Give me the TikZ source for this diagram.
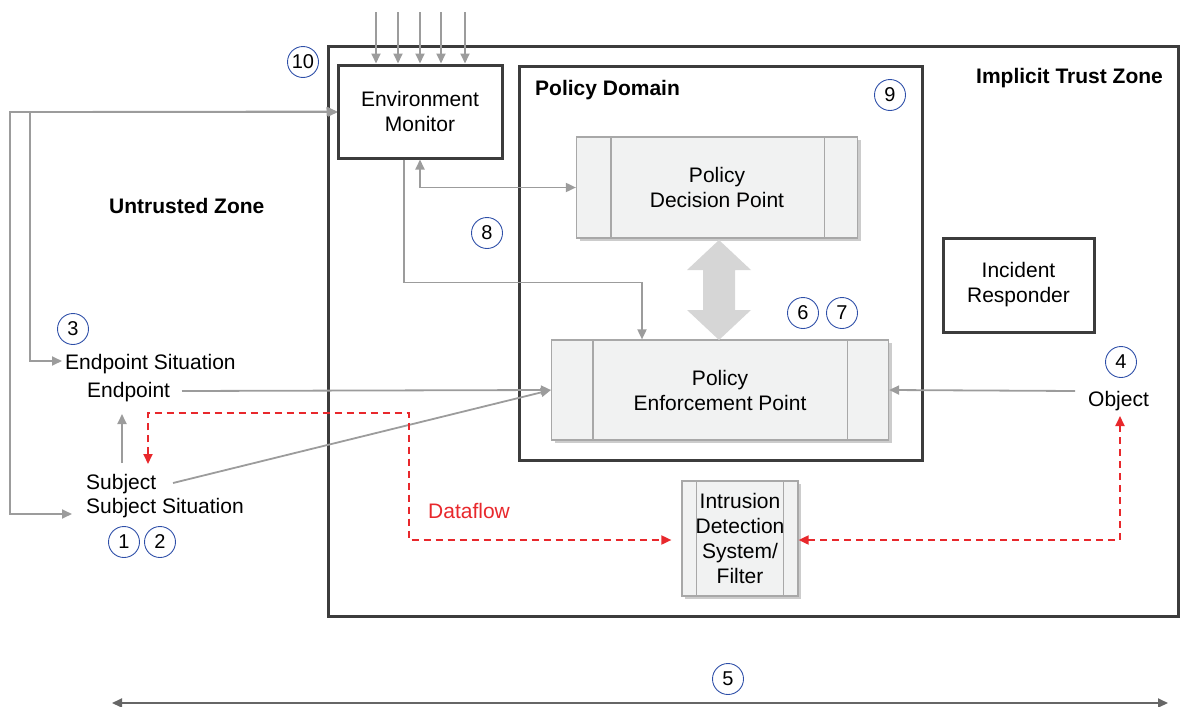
\documentclass[tikz,border=0pt]{standalone}
\usepackage{fontspec}
\setmainfont{Liberation Sans}
\usetikzlibrary{arrows.meta,calc,shadows}
\definecolor{conngray}{HTML}{9C9C9C}
\definecolor{boxline}{HTML}{3C3C3C}
\definecolor{redf}{HTML}{E8282C}
\definecolor{circ}{HTML}{2E4FA8}
\definecolor{pfill}{HTML}{F1F2F2}
\definecolor{pline}{HTML}{A8A8A8}
\definecolor{bigarrow}{HTML}{D6D6D6}
\begin{document}
\begin{tikzpicture}[x=1pt,y=-1pt,
  font=\fontsize{21}{25}\selectfont,
  tip/.tip={Triangle[length=10pt,width=9pt]},
  zone/.style={draw=boxline, line width=3pt, inner sep=0pt},
  tbox/.style={draw=boxline, line width=3pt, fill=white, align=center, inner sep=0pt},
  pbox/.style={draw=pline, line width=1.2pt, fill=pfill, align=center, inner sep=0pt,
    drop shadow={shadow xshift=3pt, shadow yshift=-3pt, fill=black!40, opacity=0.5}},
  strip/.style={draw=pline, line width=1.2pt},
  num/.style={circle, draw=circ, line width=0.9pt, minimum size=31pt, inner sep=0pt,
    font=\fontsize{20}{20}\selectfont},
  cline/.style={draw=conngray, line width=1.8pt},
  rline/.style={draw=redf, line width=1.8pt, dash pattern=on 7pt off 5pt},
  lbl/.style={inner sep=0pt, anchor=base west},
  blbl/.style={inner sep=0pt, anchor=base west, font=\fontsize{21}{25}\selectfont\bfseries}
]
\useasboundingbox (0,0) rectangle (1184,707);

% zones
\node[zone, minimum width=850pt, minimum height=570pt] (trust) at (753.5,331) {};
\node[zone, minimum width=403pt, minimum height=394pt] (domain) at (721,263.5) {};
\node[blbl] (itz) at (976,83) {Implicit Trust Zone};
\node[blbl] (pdl) at (535,95) {Policy Domain};
\node[blbl] (utz) at (109,213) {Untrusted Zone};

% free coordinates
\coordinate (lt) at (10,112);
\coordinate (lb) at (10,514);
\coordinate (it) at (30,112);
\coordinate (ib) at (30,361);
\coordinate (esin) at (62,361);
\coordinate (ssin) at (72,514);
\coordinate (epout) at (182,391);
\coordinate (sjout) at (173,483);
\coordinate (upfrom) at (122,463);
\coordinate (upto) at (122,414);
\coordinate (obout) at (1075,391);
\coordinate (redtip) at (148,464);
\coordinate (redc1) at (148,413);
\coordinate (redc2) at (409,413);
\coordinate (redc3) at (409,540);
\coordinate (redc4) at (1120,540);
\coordinate (obtip) at (1120,416);

% connectors (under boxes)
\draw[cline,{tip}-{tip}] (ssin) -- (lb) -- (lt) -- (338,112);
\draw[cline,-{tip}] (it) -- (ib) -- (esin);

% boxes
\node[tbox, minimum width=164pt, minimum height=93pt] (em) at (420,111.5)
  {Environment\\Monitor};
\node[pbox, minimum width=281pt, minimum height=101pt] (pdp) at (717,187.5)
  {Policy\\Decision Point};
\node[pbox, minimum width=337pt, minimum height=100pt] (pep) at (720,390)
  {Policy\\Enforcement Point};
\node[pbox, minimum width=116pt, minimum height=115pt] (ids) at (740,538.5)
  {Intrusion\\Detection\\System/\\Filter};
\node[tbox, minimum width=151pt, minimum height=94pt] (ir) at (1018.5,285)
  {Incident\\Responder};

\draw[strip] ($(pdp.north west)+(35,0)$) -- ($(pdp.south west)+(35,0)$);
\draw[strip] ($(pdp.north east)+(-34,0)$) -- ($(pdp.south east)+(-34,0)$);
\draw[strip] ($(pep.north west)+(42,0)$) -- ($(pep.south west)+(42,0)$);
\draw[strip] ($(pep.north east)+(-42,0)$) -- ($(pep.south east)+(-42,0)$);
\draw[strip] ($(ids.north west)+(15,0)$) -- ($(ids.south west)+(15,0)$);
\draw[strip] ($(ids.north east)+(-15,0)$) -- ($(ids.south east)+(-15,0)$);

% text nodes
\node[lbl] (es) at (65,369) {Endpoint Situation};
\node[lbl] (ep) at (87,397) {Endpoint};
\node[lbl] (sj) at (86,489) {Subject};
\node[lbl] (ss) at (86,513) {Subject Situation};
\node[lbl] (ob) at (1088,406) {Object};
\node[lbl, text=redf] (df) at (428,518) {Dataflow};

% arrow into EM
\draw[cline,-{tip}] (it) -- (em.west);

% top inputs
\foreach \x in {376,398,420,441,465}{
  \draw[cline,-{tip}] (\x,12) -- (\x,63.5);
}

% EM to PDP / PEP
\draw[cline,{tip}-{tip}] (em.south) |- (pdp.west);
\draw[cline,-{tip}] ($(em.south)+(-16,0)$) |- ($(pep.north)+(-78,-57)$) -- ($(pep.north)+(-78,0)$);

% endpoints to PEP
\draw[cline,-{tip}] (epout) -- (pep.west);
\draw[cline,-{tip}] (sjout) -- (pep.west);
\draw[cline,-{tip}] (obout) -- (pep.east);
\draw[cline,-{tip}] (upfrom) -- (upto);

% big double arrow PDP <-> PEP
\fill[bigarrow] (719,240) -- (751,270) -- (735,270) -- (735,310) -- (751,310) -- (719,340)
  -- (687,310) -- (703,310) -- (703,270) -- (687,270) -- cycle;

% red dataflow
\draw[rline,{tip}-{tip}] (redtip) -- (redc1) -- (redc2) -- (redc3) -- ($(ids.west)+(-10,1.5)$);
\draw[rline,{tip}-{tip}] ($(ids.east)+(0,1.5)$) -- (redc4) -- (obtip);

% numbers
\node[num] (n1) at (124,542) {1};
\node[num] (n2) at (160,542) {2};
\node[num] (n3) at (73,329) {3};
\node[num] (n4) at (1121,362) {4};
\node[num] (n5) at (728,679) {5};
\node[num] (n6) at (803,313) {6};
\node[num] (n7) at (842,313) {7};
\node[num] (n8) at (487,233) {8};
\node[num] (n9) at (890,95) {9};
\node[num] (n10) at (303,62) {10};

% bottom scale arrow
\coordinate (bl) at (112,703);
\coordinate (br) at (1168,703);
\draw[draw=gray!80!black, line width=1.8pt, {tip}-{tip}] (bl) -- (br);
\end{tikzpicture}
\end{document}
